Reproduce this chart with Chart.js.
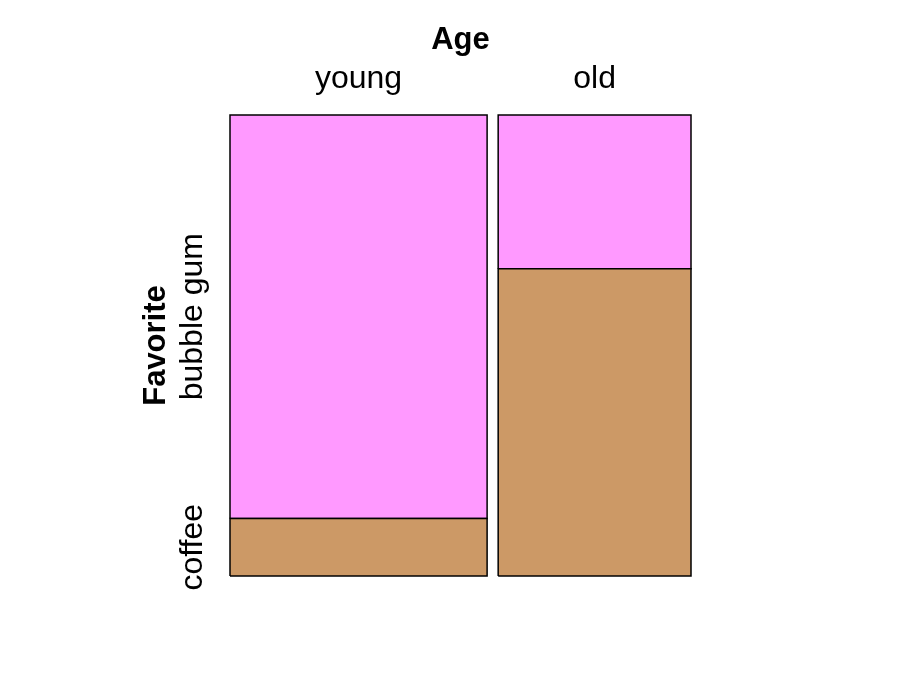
<!DOCTYPE html>
<html>
<head>
<meta charset="utf-8">
<script src="https://cdn.jsdelivr.net/npm/chart.js@4/dist/chart.umd.min.js"></script>
<style>
  html, body { margin: 0; padding: 0; background: #fff; }
  #wrap { width: 921px; height: 691px; }
</style>
</head>
<body>
<div id="wrap"><canvas id="mosaic"></canvas></div>
<script>
// counts
var ages = ['young', 'old'];
var favorites = ['coffee', 'bubble gum'];
var coffeeCounts = [5, 20];
var bubbleGumCounts = [35, 10];

var colors = ['#CC9966', '#FF99FF'];
var GAP = 0.024; // space between the two columns, in x-scale units
var FONT = "'Liberation Sans', Arial, sans-serif";

var counts = [coffeeCounts, bubbleGumCounts];
var colTotals = ages.map(function(a, i) { return coffeeCounts[i] + bubbleGumCounts[i]; });
var grand = colTotals.reduce(function(s, v) { return s + v; }, 0);

// column edges along x
var cols = [];
var x = 0;
ages.forEach(function(a, i) {
    var w = (1 - GAP * (ages.length - 1)) * colTotals[i] / grand;
    cols.push({ x0: x, x1: x + w });
    x += w + GAP;
});

// one closed rectangle per cell
var datasets = [];
var yMids = [];
ages.forEach(function(a, i) {
    var y = 0;
    favorites.forEach(function(f, j) {
        var h = counts[j][i] / colTotals[i];
        var c = cols[i];
        if (i === 0) yMids.push(y + h / 2);
        datasets.push({
            label: a + ' / ' + f,
            data: [
                { x: c.x0, y: y }, { x: c.x1, y: y },
                { x: c.x1, y: y + h }, { x: c.x0, y: y + h },
                { x: c.x0, y: y }
            ],
            showLine: true,
            fill: 'shape',
            backgroundColor: colors[j],
            borderColor: '#000',
            borderWidth: 1.5,
            pointRadius: 0,
            tension: 0,
            clip: false
        });
        y += h;
    });
});

// axis names and level labels, placed through the scales
var labelPlugin = {
    id: 'mosaicLabels',
    afterDraw: function(chart) {
        var ctx = chart.ctx;
        var area = chart.chartArea;
        var xs = chart.scales.x, ys = chart.scales.y;
        ctx.save();
        ctx.fillStyle = '#000';
        ctx.textAlign = 'center';
        ctx.textBaseline = 'alphabetic';

        ctx.font = 'bold 31px ' + FONT;
        ctx.fillText('Age', (area.left + area.right) / 2, area.top - 66);

        ctx.font = '32px ' + FONT;
        ages.forEach(function(a, i) {
            ctx.fillText(a, xs.getPixelForValue((cols[i].x0 + cols[i].x1) / 2), area.top - 27);
        });

        favorites.forEach(function(f, j) {
            ctx.save();
            ctx.translate(area.left - 28, ys.getPixelForValue(yMids[j]));
            ctx.rotate(-Math.PI / 2);
            ctx.fillText(f, 0, 0);
            ctx.restore();
        });

        ctx.font = 'bold 31px ' + FONT;
        ctx.translate(area.left - 65, (area.top + area.bottom) / 2);
        ctx.rotate(-Math.PI / 2);
        ctx.fillText('Favorite', 0, 0);
        ctx.restore();
    }
};

new Chart(document.getElementById('mosaic').getContext('2d'), {
    type: 'scatter',
    data: { datasets: datasets },
    options: {
        responsive: true,
        maintainAspectRatio: false,
        animation: false,
        layout: { padding: { left: 230, right: 230, top: 115, bottom: 115 } },
        scales: {
            x: { type: 'linear', min: 0, max: 1, display: false },
            y: { type: 'linear', min: 0, max: 1, display: false }
        },
        plugins: {
            legend: { display: false },
            tooltip: { enabled: false }
        }
    },
    plugins: [labelPlugin]
});
</script>
</body>
</html>
